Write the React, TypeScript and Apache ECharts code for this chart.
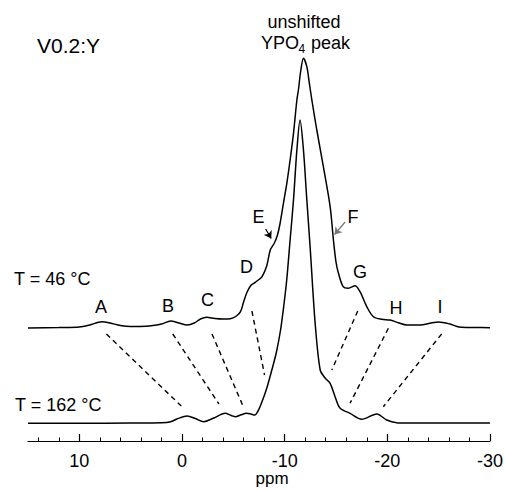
import React, { useEffect, useRef } from "react";
import * as echarts from "echarts";

// ppm positions and intensities (arbitrary units, baseline offset included)
const topPpm = [15, 12, 10, 9, 7.8, 7, 6, 5, 3.5, 2, 1.1, 0.3, -0.5, -1.2, -1.8, -2.4, -3.2, -4, -4.7, -5.3, -5.7, -6.0, -6.3, -6.7, -7.1, -7.5, -7.8, -8.25, -8.6, -9.0, -9.3, -9.56, -9.88, -10.21, -10.53, -10.86, -11.19, -11.34, -11.55, -11.83, -12.16, -12.4, -12.65, -13.13, -13.77, -14.43, -14.75, -15.0, -15.24, -15.7, -16.2, -16.86, -17.34, -18.0, -18.64, -19.46, -20.26, -21.07, -21.9, -23.2, -24.15, -24.96, -26.1, -27, -28.5, -30];
const topVal = [113, 113.5, 114, 116, 119.3, 118, 115.5, 114.5, 114.7, 117, 120, 118, 116, 118, 122, 123.7, 122.5, 122, 122.3, 125, 129.3, 139, 148, 155.5, 158.3, 161.5, 164.3, 175, 191, 198, 206, 218, 237.7, 257.7, 281, 307.7, 341, 351, 369, 382.7, 374.3, 358, 341, 311, 274.3, 234.3, 201, 179, 167.7, 154.3, 152.7, 155.3, 149.3, 134.3, 124.3, 121.7, 121, 118.3, 116, 116, 117.7, 119, 117, 114, 113.5, 113.3];

const botPpm = [15, 10, 5, 2, 1.1, 0.5, -0.5, -1.3, -2.1, -3.1, -4.2, -4.8, -5.2, -5.7, -6.3, -6.7, -7.1, -7.4, -7.6, -8.0, -8.3, -8.75, -9.2, -9.6, -9.9, -10.2, -10.53, -10.86, -11.19, -11.5, -11.83, -12.16, -12.48, -12.97, -13.46, -13.94, -14.43, -14.91, -15.4, -16.37, -17.5, -18.97, -19.94, -20.9, -22, -30];
const botVal = [17.7, 17.7, 18, 18.3, 19.3, 22, 25, 22.5, 19.3, 23, 27.7, 25.5, 24.3, 26, 27.7, 27, 26, 30, 34.3, 45, 54.3, 71, 89, 111, 134, 161, 201, 241, 291, 321, 291, 241, 194, 117.7, 71, 63, 57.7, 44.3, 32.7, 27.7, 21.7, 27, 21, 18.3, 18, 18];

// dashed correlation lines: [ppm1, val1, ppm2, val2]
const dashLines = [
  [7.36, 107, 0.07, 35],
  [0.9, 107, -3.6, 37],
  [-2.92, 107, -5.93, 35.3],
  [-6.81, 130, -8.04, 66],
  [-17.12, 130, -14.59, 71],
  [-20.1, 112.7, -16.37, 37.7],
  [-25.29, 107, -19.61, 34.3],
];

const majorTicks = [-30, -20, -10, 0, 10];
const minorTicks = [-28, -26, -24, -22, -18, -16, -14, -12, -8, -6, -4, -2, 2, 4, 6, 8, 12, 14];

// peak letters: [label, x px, y px]
const peakLabels: [string, number, number][] = [
  ["A", 101, 307], ["B", 168, 306], ["C", 207.5, 300], ["D", 246.5, 267],
  ["E", 258.5, 217], ["F", 353, 217], ["G", 360, 272], ["H", 396, 308], ["I", 440, 307],
];

const FONT = "'Liberation Sans', Arial, Helvetica, sans-serif";

export default function App() {
  const ref = useRef<HTMLDivElement>(null);
  useEffect(() => {
    if (!ref.current) return;
    const chart = echarts.init(ref.current, undefined, { renderer: "svg" });
    const zip = (a: number[], b: number[]) => a.map((x, i) => [x, b[i]]);
    const series: any[] = [
      {
        type: "line", data: zip(topPpm, topVal), showSymbol: false, symbol: "none",
        smooth: 0.3, lineStyle: { color: "#000", width: 1.5 }, silent: true,
      },
      {
        type: "line", data: zip(botPpm, botVal), showSymbol: false, symbol: "none",
        smooth: 0.3, lineStyle: { color: "#000", width: 1.5 }, silent: true,
      },
    ];
    dashLines.forEach((d) => {
      series.push({
        type: "line", data: [[d[0], d[1]], [d[2], d[3]]], symbol: "none",
        lineStyle: { color: "#000", width: 1.4, type: [5, 4] }, silent: true,
      });
    });
    series.push({
      type: "lines", coordinateSystem: "cartesian2d", silent: true,
      symbol: ["none", "arrow"], symbolSize: 7,
      data: [
        { coords: [[-8.15, 212], [-8.69, 202.5]], lineStyle: { color: "#000" } },
        { coords: [[-15.89, 219], [-14.86, 206.5]], lineStyle: { color: "#777" } },
      ],
      lineStyle: { width: 1.2, opacity: 1 },
    });

    const graphics: any[] = [
      { type: "text", x: 37, y: 45, style: { text: "V0.2:Y", font: `21px ${FONT}`, fill: "#000", align: "left", verticalAlign: "middle" } },
      { type: "text", x: 304, y: 22, style: { text: "unshifted", font: `18px ${FONT}`, fill: "#000", align: "center", verticalAlign: "middle" } },
      { type: "text", x: 261, y: 43, style: { text: "YPO", font: `18px ${FONT}`, fill: "#000", align: "left", verticalAlign: "middle" } },
      { type: "text", x: 298.5, y: 49, style: { text: "4", font: `12px ${FONT}`, fill: "#000", align: "left", verticalAlign: "middle" } },
      { type: "text", x: 306, y: 43, style: { text: " peak", font: `18px ${FONT}`, fill: "#000", align: "left", verticalAlign: "middle" } },
      { type: "text", x: 14, y: 279, style: { text: "T = 46 °C", font: `18px ${FONT}`, fill: "#000", align: "left", verticalAlign: "middle" } },
      { type: "text", x: 15, y: 405, style: { text: "T = 162 °C", font: `18px ${FONT}`, fill: "#000", align: "left", verticalAlign: "middle" } },
      { type: "text", x: 272, y: 478, style: { text: "ppm", font: `17px ${FONT}`, fill: "#000", align: "center", verticalAlign: "middle" } },
      ...peakLabels.map(([t, x, y]) => ({
        type: "text", x, y, style: { text: t, font: `18px ${FONT}`, fill: "#000", align: "center", verticalAlign: "middle" },
      })),
    ];

    chart.setOption({
      animation: false,
      backgroundColor: "#fff",
      grid: { left: 28, right: 16, top: 41, bottom: 49, containLabel: false },
      xAxis: [
        {
          type: "value", min: -30, max: 15, inverse: true, position: "bottom",
          axisLine: { show: true, lineStyle: { color: "#000", width: 1.2 } },
          axisTick: { show: true, inside: true, length: 7, customValues: majorTicks, lineStyle: { color: "#000", width: 1.2 } },
          axisLabel: { show: true, customValues: majorTicks, color: "#000", fontSize: 18, fontFamily: FONT, margin: 11 },
          splitLine: { show: false },
        },
        {
          type: "value", min: -30, max: 15, inverse: true, position: "bottom",
          axisLine: { show: false },
          axisTick: { show: true, inside: true, length: 3.5, customValues: minorTicks, lineStyle: { color: "#000", width: 1 } },
          axisLabel: { show: false },
          splitLine: { show: false },
        },
      ],
      yAxis: { type: "value", min: 0, max: 400, show: false },
      series,
      graphic: graphics,
    });
    return () => chart.dispose();
  }, []);
  return <div ref={ref} style={{ position: "absolute", left: 0, top: 0, width: 506, height: 490 }} />;
}
